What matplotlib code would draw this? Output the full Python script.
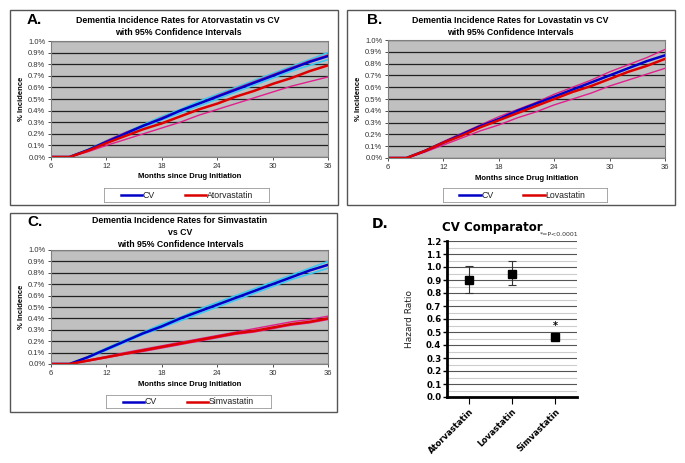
import matplotlib
matplotlib.use('agg')
import matplotlib.pyplot as plt
from matplotlib.patches import Rectangle
from matplotlib.ticker import FuncFormatter

# --- data (percent incidence) ---
months = [6, 7, 8, 10, 12, 14, 16, 18, 20, 22, 24, 26, 28, 30, 32, 34, 36]

cv = [0, 0, 0, 0.06, 0.13, 0.20, 0.27, 0.33, 0.40, 0.46, 0.52, 0.58, 0.64, 0.70, 0.76, 0.82, 0.87]
cv_hi = [0, 0, 0, 0.065, 0.14, 0.21, 0.28, 0.35, 0.41, 0.48, 0.54, 0.60, 0.66, 0.72, 0.78, 0.84, 0.90]
cv_lo = [0, 0, 0, 0.055, 0.12, 0.19, 0.26, 0.32, 0.38, 0.44, 0.50, 0.56, 0.62, 0.68, 0.74, 0.79, 0.84]

ator = [0, 0, 0, 0.055, 0.12, 0.18, 0.24, 0.29, 0.35, 0.41, 0.46, 0.52, 0.57, 0.63, 0.68, 0.74, 0.79]
ator_hi = [0, 0, 0, 0.06, 0.14, 0.21, 0.27, 0.34, 0.40, 0.46, 0.53, 0.59, 0.65, 0.71, 0.77, 0.83, 0.88]
ator_lo = [0, 0, 0, 0.045, 0.10, 0.15, 0.20, 0.25, 0.30, 0.36, 0.41, 0.46, 0.51, 0.56, 0.61, 0.65, 0.69]

lova = [0, 0, 0, 0.06, 0.13, 0.19, 0.26, 0.32, 0.38, 0.44, 0.50, 0.56, 0.61, 0.67, 0.73, 0.78, 0.84]
lova_hi = [0, 0, 0, 0.065, 0.14, 0.21, 0.28, 0.35, 0.41, 0.47, 0.54, 0.60, 0.66, 0.73, 0.79, 0.85, 0.92]
lova_lo = [0, 0, 0, 0.05, 0.11, 0.17, 0.23, 0.28, 0.34, 0.39, 0.45, 0.50, 0.55, 0.61, 0.66, 0.71, 0.76]

simva = [0, 0, 0, 0.03, 0.06, 0.09, 0.12, 0.15, 0.18, 0.21, 0.24, 0.27, 0.29, 0.32, 0.35, 0.37, 0.40]
simva_hi = [0, 0, 0, 0.035, 0.065, 0.10, 0.13, 0.16, 0.19, 0.22, 0.25, 0.28, 0.31, 0.34, 0.37, 0.39, 0.42]
simva_lo = [0, 0, 0, 0.025, 0.055, 0.085, 0.11, 0.14, 0.17, 0.20, 0.23, 0.26, 0.28, 0.31, 0.34, 0.36, 0.39]

drugs = ['Atorvastatin', 'Lovastatin', 'Simvastatin']
hr = [0.90, 0.95, 0.46]
hr_lo = [0.80, 0.86, 0.44]
hr_hi = [1.01, 1.05, 0.48]

W, H = 685, 463
fig = plt.figure(figsize=(6.85, 4.63), dpi=100)
plt.rcParams['font.family'] = ['Liberation Sans', 'DejaVu Sans']

BLUE = '#0000c8'
CYAN = '#3cc8f0'
RED = '#dc0000'
MAG = '#e0208c'


def px(x0, y0, x1, y1):
    return [x0 / W, 1 - y1 / H, (x1 - x0) / W, (y1 - y0) / H]


def box(x0, y0, x1, y1):
    fig.patches.append(Rectangle((x0 / W, 1 - y1 / H), (x1 - x0) / W, (y1 - y0) / H,
                                 transform=fig.transFigure, fill=False,
                                 edgecolor='#555555', lw=1.0))


def incidence_panel(rect, letter, letter_xy, title, title_xy, drug, d, d_hi, d_lo,
                    xlab_y, leg_rect, show_cv_ci=True):
    ax = fig.add_axes(px(*rect))
    ax.set_facecolor('#c0c0c0')
    ax.set_xlim(6, 36)
    ax.set_ylim(0, 1.0)
    ax.set_xticks([6, 12, 18, 24, 30, 36])
    ax.set_yticks([i / 10 for i in range(11)])
    ax.yaxis.set_major_formatter(FuncFormatter(lambda v, p: '%.1f%%' % v))
    ax.grid(axis='y', color='#202020', lw=0.9)
    ax.set_axisbelow(True)
    ax.tick_params(labelsize=5.5, length=2, width=0.6, colors='#333333', pad=2)
    for s in ax.spines.values():
        s.set_color('#808080')
        s.set_linewidth(0.8)
    if show_cv_ci:
        ax.plot(months, cv_hi, color=CYAN, lw=1.2)
        ax.plot(months, cv_lo, color=CYAN, lw=1.2)
    ax.plot(months, d_hi, color=MAG, lw=1.0)
    ax.plot(months, d_lo, color=MAG, lw=1.0)
    ax.plot(months, cv, color=BLUE, lw=1.8)
    ax.plot(months, d, color=RED, lw=1.8)
    ax.set_ylabel('% Incidence', fontsize=5.5, fontweight='bold', labelpad=2)
    fig.text(((rect[0] + rect[2]) / 2) / W, 1 - xlab_y / H, 'Months since Drug Initiation',
             ha='center', va='center', fontsize=5.5, fontweight='bold')
    fig.text(letter_xy[0] / W, 1 - letter_xy[1] / H, letter, fontsize=11,
             fontweight='bold', ha='left', va='center')
    fig.text(title_xy[0] / W, 1 - title_xy[1] / H, title, fontsize=6.3,
             fontweight='bold', ha='center', va='top', linespacing=1.4)
    # legend box
    lx0, ly0, lx1, ly1 = leg_rect
    lax = fig.add_axes(px(lx0, ly0, lx1, ly1))
    lax.set_xlim(0, 1)
    lax.set_ylim(0, 1)
    lax.set_xticks([])
    lax.set_yticks([])
    for s in lax.spines.values():
        s.set_color('#999999')
        s.set_linewidth(0.6)
    lax.plot([0.10, 0.23], [0.5, 0.5], color=BLUE, lw=1.8)
    lax.text(0.235, 0.5, 'CV', fontsize=6.3, va='center', ha='left', color='#222222')
    lax.plot([0.49, 0.62], [0.5, 0.5], color=RED, lw=1.8)
    lax.text(0.625, 0.5, drug, fontsize=6.3, va='center', ha='left', color='#222222')
    return ax


# A
box(10, 10, 338, 205)
incidence_panel((51, 41, 328, 157), 'A.', (27, 20),
                'Dementia Incidence Rates for Atorvastatin vs CV\nwith 95% Confidence Intervals',
                (178, 16), 'Atorvastatin', ator, ator_hi, ator_lo, 177, (104, 188, 269, 202))
# B
box(347, 10, 675, 205)
incidence_panel((388, 40, 665, 158), 'B.', (367, 20),
                'Dementia Incidence Rates for Lovastatin vs CV\nwith 95% Confidence Intervals',
                (510, 16), 'Lovastatin', lova, lova_hi, lova_lo, 178, (443, 188, 607, 202),
                show_cv_ci=False)
# C
box(10, 213, 337, 412)
incidence_panel((51, 250, 328, 364), 'C.', (27, 222),
                'Dementia Incidence Rates for Simvastatin\nvs CV\nwith 95% Confidence Intervals',
                (180, 216), 'Simvastatin', simva, simva_hi, simva_lo, 384, (106, 395, 271, 408))

# D
axd = fig.add_axes(px(447, 241, 577, 397))
x = list(range(len(drugs)))
yerr = [[h - lo for h, lo in zip(hr, hr_lo)], [hi - h for h, hi in zip(hr, hr_hi)]]
axd.errorbar(x, hr, yerr=yerr, fmt='s', color='black', ms=5.5, ecolor='#333333',
             elinewidth=0.8, capsize=3, capthick=0.8, zorder=3)
axd.text(x[2], hr_hi[2] + 0.03, '*', ha='center', va='bottom', fontsize=7,
         fontweight='bold', family='DejaVu Sans')
axd.set_xlim(-0.5, 2.5)
axd.set_ylim(0, 1.2)
axd.set_yticks([i / 10 for i in range(13)])
axd.set_yticks([i / 20 for i in range(1, 24, 2)], minor=True)
axd.yaxis.set_major_formatter(FuncFormatter(lambda v, p: '%.1f' % v))
axd.grid(axis='y', which='major', color='#555555', lw=0.8)
axd.grid(axis='y', which='minor', color='#cccccc', lw=0.8)
axd.set_axisbelow(True)
axd.set_xticks(x)
axd.set_xticklabels(drugs, rotation=45, ha='right', rotation_mode='anchor',
                    fontsize=6, fontweight='bold', family='DejaVu Sans')
for lab in axd.get_yticklabels():
    lab.set_fontweight('bold')
    lab.set_family('DejaVu Sans')
axd.tick_params(axis='y', labelsize=6.2, length=3, width=1, pad=1)
axd.tick_params(axis='y', which='minor', length=0)
axd.tick_params(axis='x', length=5, width=0.8, direction='out', pad=2)
for s in ['top', 'right']:
    axd.spines[s].set_visible(False)
axd.spines['left'].set_linewidth(2)
axd.spines['bottom'].set_linewidth(2)
axd.set_ylabel('Hazard Ratio', fontsize=6.5, family='DejaVu Sans', labelpad=9,
               color='#222222')
fig.text(492 / W, 1 - 227 / H, 'CV Comparator', fontsize=8.5, fontweight='bold',
         family='DejaVu Sans', ha='center', va='center')
fig.text(540 / W, 1 - 234 / H, '*=P<0.0001', fontsize=4.5, family='DejaVu Sans',
         ha='left', va='center', color='#333333')
fig.text(372 / W, 1 - 224 / H, 'D.', fontsize=10, fontweight='bold',
         family='DejaVu Sans', ha='left', va='center')

plt.savefig('out.png', dpi=100)
